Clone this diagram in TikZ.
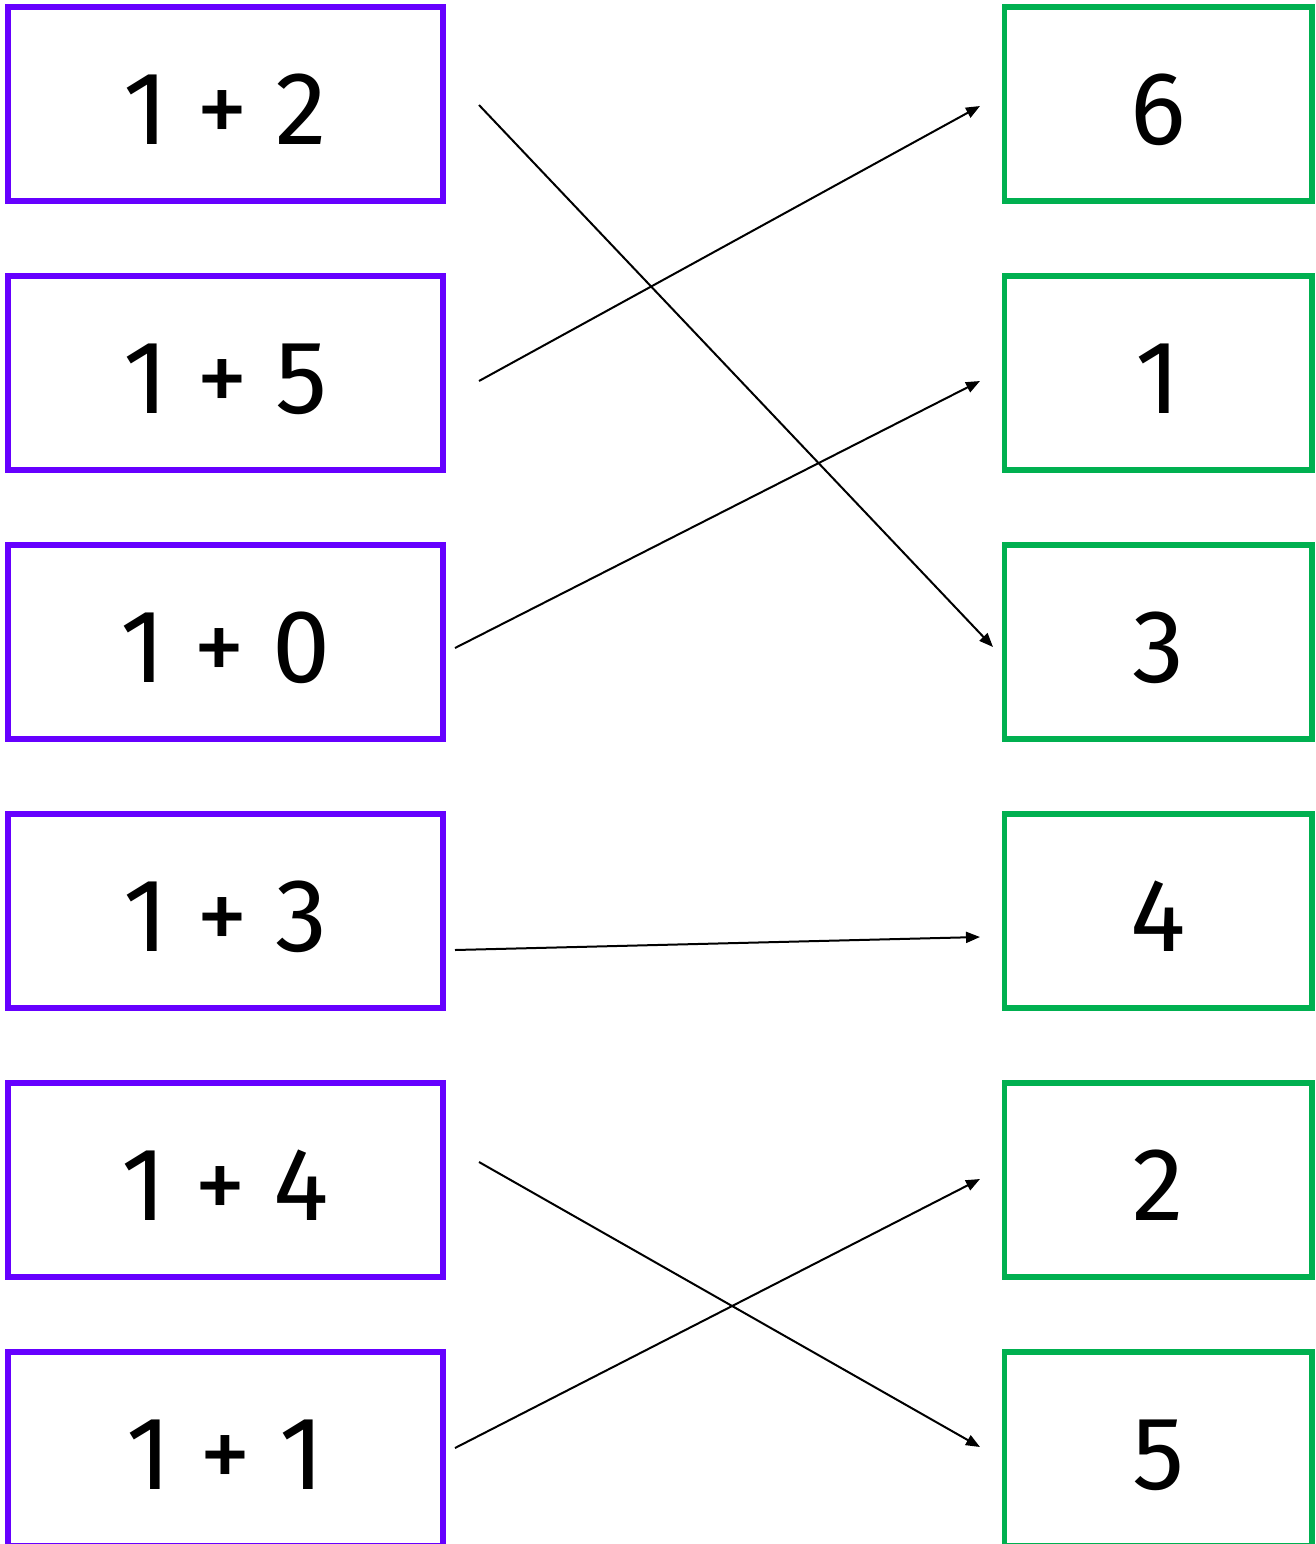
\documentclass[tikz,border=0pt]{standalone}
\usepackage{fontspec}
\setmainfont{Fira Sans}
\usetikzlibrary{arrows.meta}
\definecolor{boxpurple}{RGB}{102,0,255}
\definecolor{boxgreen}{RGB}{0,176,80}
\begin{document}
\begin{tikzpicture}[x=0.5pt,y=-0.5pt,
  boxtext/.style={inner sep=0pt,text height=40pt,text depth=0pt,font=\fontsize{52}{60}\selectfont},
  sumbox/.style={boxtext,draw=boxpurple,line width=2.6pt,minimum width=217.5pt,minimum height=97pt},
  ansbox/.style={boxtext,draw=boxgreen,line width=2.6pt,minimum width=153.75pt,minimum height=97pt},
  link/.style={line width=1pt,-{Triangle[length=7pt,width=5.5pt]}}]
\useasboundingbox (0,0) rectangle (1316,1544);
\node[sumbox] (L1) at (225.5,104) {1 + 2};
\node[sumbox] (L2) at (225.5,373) {1 + 5};
\node[sumbox] (L3) at (225.5,642) {1 + 0};
\node[sumbox] (L4) at (225.5,911) {1 + 3};
\node[sumbox] (L5) at (225.5,1180) {1 + 4};
\node[sumbox] (L6) at (225.5,1449) {1 + 1};
\node[ansbox] (R1) at (1158.25,104) {6};
\node[ansbox] (R2) at (1158.25,373) {1};
\node[ansbox] (R3) at (1158.25,642) {3};
\node[ansbox] (R4) at (1158.25,911) {4};
\node[ansbox] (R5) at (1158.25,1180) {2};
\node[ansbox] (R6) at (1158.25,1449) {5};
\coordinate (s1) at (479,105);  \coordinate (t1) at (993,647);
\coordinate (s2) at (479,381);  \coordinate (t2) at (980,106);
\coordinate (s3) at (455,648);  \coordinate (t3) at (980,381);
\coordinate (s4) at (455,950);  \coordinate (t4) at (980,937);
\coordinate (s5) at (479,1162); \coordinate (t5) at (980,1447);
\coordinate (s6) at (455,1448); \coordinate (t6) at (980,1179);
\draw[link] (s1) -- (t1);
\draw[link] (s2) -- (t2);
\draw[link] (s3) -- (t3);
\draw[link] (s4) -- (t4);
\draw[link] (s5) -- (t5);
\draw[link] (s6) -- (t6);
\end{tikzpicture}
\end{document}
